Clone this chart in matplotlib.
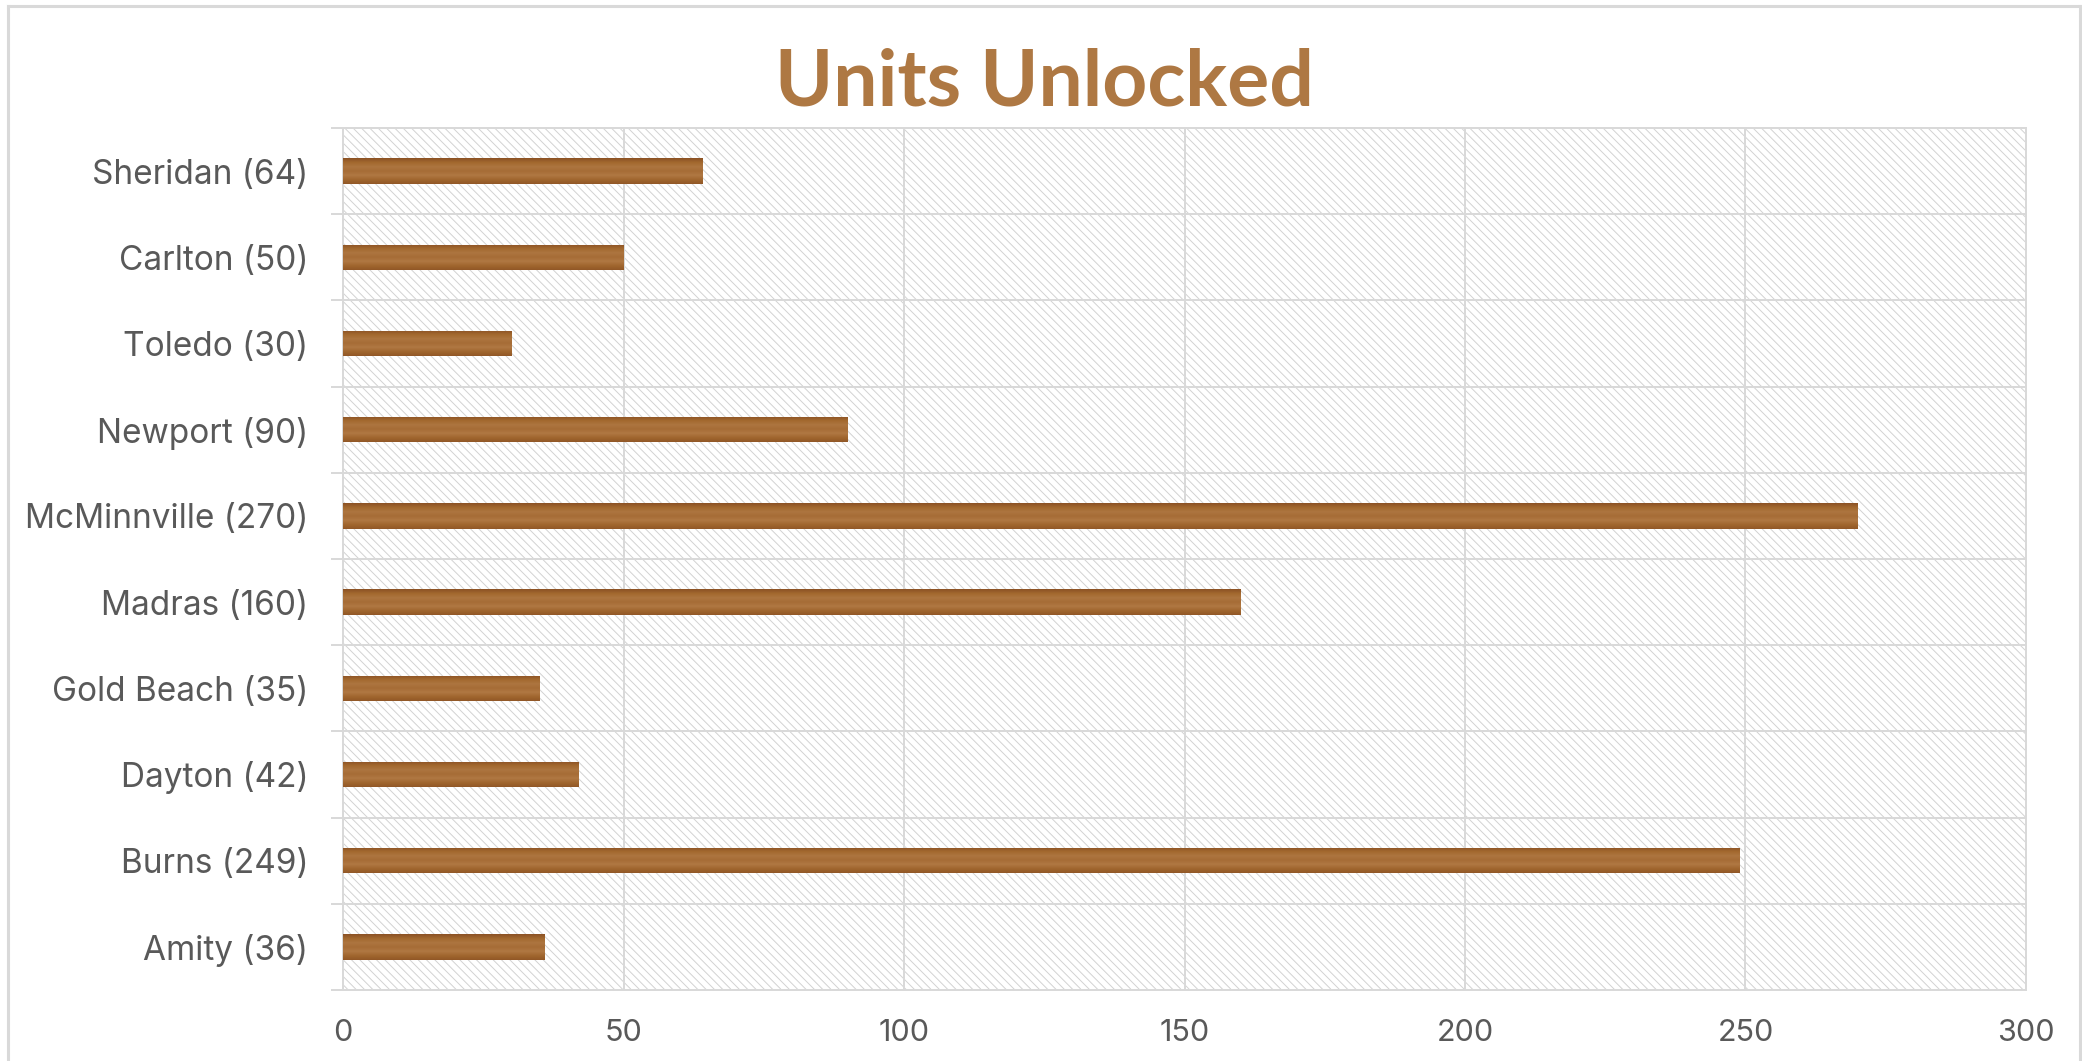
import numpy as np
import matplotlib
matplotlib.use("Agg")
from matplotlib import pyplot as plt
from matplotlib.patches import Rectangle
from matplotlib.lines import Line2D
from matplotlib.colors import LinearSegmentedColormap

# data, bottom to top as drawn
cities = ['Amity', 'Burns', 'Dayton', 'Gold Beach', 'Madras',
          'McMinnville', 'Newport', 'Toledo', 'Carlton', 'Sheridan']
units = [36, 249, 42, 35, 160, 270, 90, 30, 50, 64]
labels = [c + ' (' + str(u) + ')' for c, u in zip(cities, units)]
xticks = [0, 50, 100, 150, 200, 250, 300]

grid_col = '#d9d9d9'
text_col = '#595959'
title_col = '#ae7843'

plt.rcParams['font.family'] = ['Inter', 'DejaVu Sans']
plt.rcParams['hatch.linewidth'] = 0.7

fig = plt.figure(figsize=(20.82, 10.61), dpi=100)
ax = fig.add_axes([343 / 2082, 1 - 990 / 1061, (2026 - 343) / 2082, (990 - 128) / 1061])

# hatched plot background
bg = Rectangle((0, 0), 1, 1, transform=ax.transAxes, facecolor='white',
               edgecolor='#d2d2d2', hatch='\\' * 4, lw=0, zorder=0.1)
ax.add_patch(bg)

y = np.arange(len(units))
bars = ax.barh(y, units, height=0.295, color='#a56b35', zorder=3)

# wood-ish look: vertical colour bands clipped to each bar
wood = LinearSegmentedColormap.from_list(
    'wood', ['#8c5225', '#a3692f', '#ad7540', '#a66c36', '#b07843', '#a1672f', '#925827'])
grad = np.linspace(0, 1, 40).reshape(-1, 1)
for b in bars:
    x0, y0 = b.get_x(), b.get_y()
    im = ax.imshow(grad, extent=[x0, x0 + b.get_width(), y0, y0 + b.get_height()],
                   aspect='auto', cmap=wood, zorder=4, interpolation='bilinear')
    im.set_clip_path(b)

ax.set_xlim(0, 300)
ax.set_ylim(-0.5, len(units) - 0.5)
ax.set_aspect('auto')

ax.set_xticks(xticks)
ax.set_xticklabels([str(t) for t in xticks])
ax.set_yticks(y)
ax.set_yticklabels(labels)
ax.set_yticks(np.arange(-0.5, len(units)), minor=True)

ax.set_axisbelow(True)
ax.grid(axis='x', which='major', color=grid_col, lw=1.44, zorder=0.5)
ax.grid(axis='y', which='minor', color=grid_col, lw=1.44, zorder=0.5)

ax.tick_params(axis='x', length=0, pad=21, labelsize=22, labelcolor=text_col)
ax.tick_params(axis='y', which='major', length=0, pad=25, labelsize=24, labelcolor=text_col)
ax.tick_params(axis='y', which='minor', length=8.6, width=1.44, color=grid_col)

for s in ax.spines.values():
    s.set_color(grid_col)
    s.set_linewidth(1.44)

fig.text(1044 / 2082, 1 - 106 / 1061, 'Units Unlocked', ha='center', va='baseline',
         fontsize=56.5, fontweight='bold', color=title_col, family=['Lato', 'DejaVu Sans'])

# chart frame
fx0, fx1, fy1 = 8 / 2082, 2080 / 2082, 1 - 6 / 1061
for xs, ys in [([fx0, fx0], [0, fy1]), ([fx0, fx1], [fy1, fy1]), ([fx1, fx1], [fy1, 0])]:
    fig.add_artist(Line2D(xs, ys, color=grid_col, lw=2.2, transform=fig.transFigure))

plt.savefig('out.png', dpi=100)
